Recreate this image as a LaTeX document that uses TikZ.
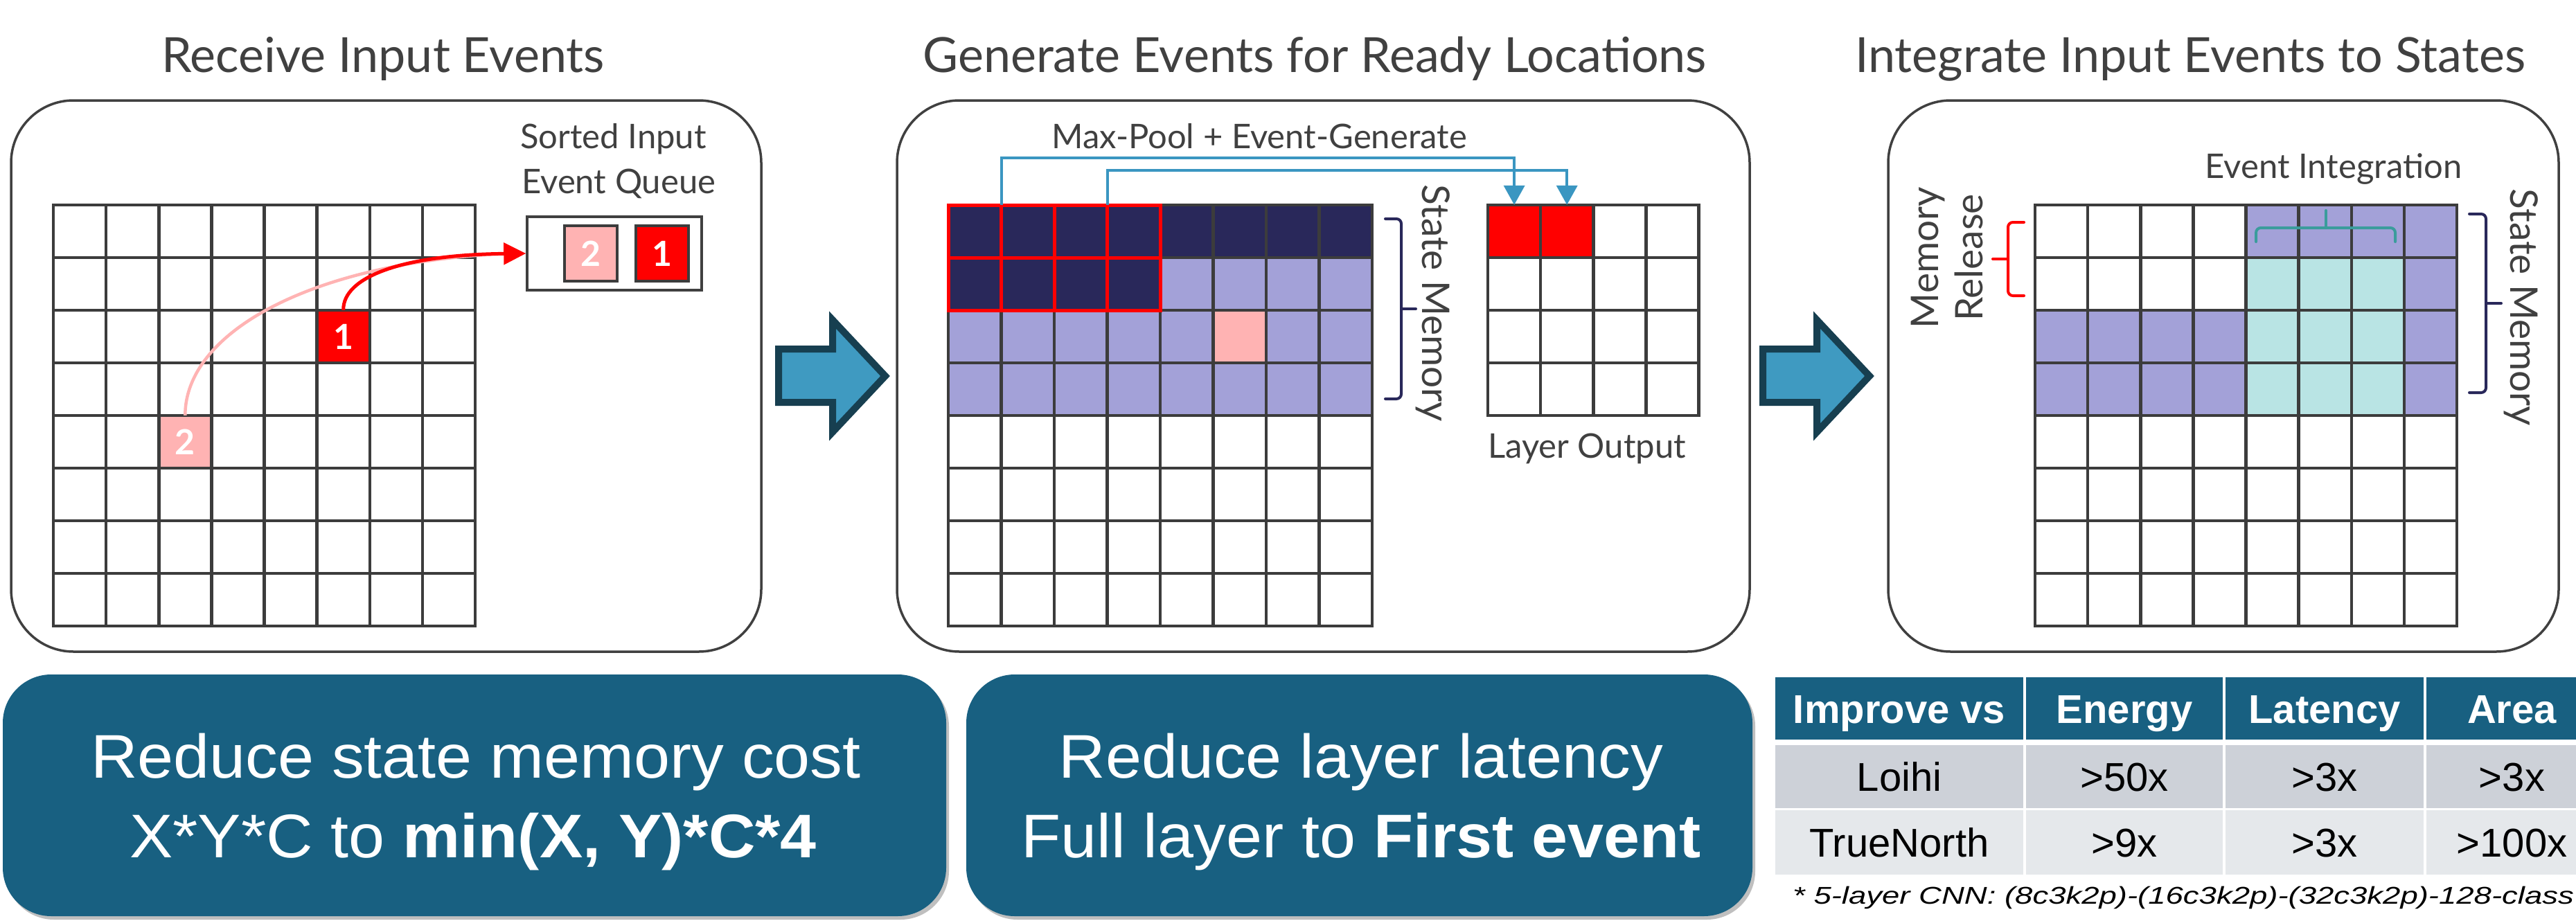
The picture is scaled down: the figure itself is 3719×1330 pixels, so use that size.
\documentclass[tikz,border=0pt]{standalone}
\usepackage{fontspec}
\setmainfont{Liberation Sans}
\newfontfamily\labelfont{Lato}
\newfontfamily\boxfont[FakeStretch=1.05]{Liberation Sans}
\newfontfamily\notefont[FakeStretch=1.3]{Liberation Sans}
\usetikzlibrary{arrows.meta,shadows}

\definecolor{inkgray}{HTML}{404040}
\definecolor{gridgray}{HTML}{3C3C3C}
\definecolor{evred}{HTML}{FF0000}
\definecolor{evpink}{HTML}{FFB3B3}
\definecolor{navy}{HTML}{29285A}
\definecolor{lavender}{HTML}{A3A1D8}
\definecolor{aqua}{HTML}{B9E4E4}
\definecolor{tealbrace}{HTML}{3A9C9C}
\definecolor{wireblue}{HTML}{3A96C1}
\definecolor{arrowfill}{HTML}{3F9AC1}
\definecolor{arrowedge}{HTML}{173F50}
\definecolor{deepteal}{HTML}{186081}
\definecolor{rowA}{HTML}{CDD1D8}
\definecolor{rowB}{HTML}{E5E8EB}

% grid of cells: x0, y0, columns, rows, cell width, cell height
\newcommand\cellgrid[6]{%
  \foreach \gi in {0,...,#3}{\draw[gridline] ({#1+\gi*#5},#2) -- ({#1+\gi*#5},{#2+#4*#6});}
  \foreach \gj in {0,...,#4}{\draw[gridline] (#1,{#2+\gj*#6}) -- ({#1+#3*#5},{#2+\gj*#6});}
}
\newcommand\titlesize{\fontsize{70pt}{84pt}\selectfont}
\newcommand\labelsize{\fontsize{49pt}{58pt}\selectfont}
\newcommand\sidesize{\fontsize{55pt}{66pt}\selectfont}
\newcommand\digitsize{\fontsize{50pt}{60pt}\selectfont}
\newcommand\boxsize{\fontsize{89pt}{106pt}\selectfont}
\newcommand\tablesize{\fontsize{58pt}{70pt}\selectfont}
\newcommand\notesize{\fontsize{35pt}{42pt}\selectfont}

\begin{document}
\begin{tikzpicture}[x=1pt, y=-1pt,
  panel/.style={draw=inkgray, line width=3.5pt, rounded corners=90pt},
  gridline/.style={draw=gridgray, line width=4.5pt, line cap=rect},
  titletext/.style={font=\labelfont\titlesize, text=inkgray, inner sep=0pt, anchor=base},
  labeltext/.style={font=\labelfont\labelsize, text=inkgray, inner sep=0pt, anchor=base},
  sidetext/.style={font=\labelfont\sidesize, text=inkgray, inner sep=0pt, anchor=base},
  eventcell/.style={minimum width=76pt, minimum height=76pt, inner sep=0pt,
    font=\labelfont\digitsize\bfseries, text=white},
  queuecell/.style={eventcell, minimum height=80pt, draw=gridgray, line width=4.5pt},
  outcell/.style={minimum width=76pt, minimum height=76pt, inner sep=0pt, fill=evred},
  redframe/.style={draw=evred, line width=5pt},
  wire/.style={draw=wireblue, line width=4pt, -{Triangle[length=28pt,width=30pt]}},
  bigarrow/.style={fill=arrowfill, draw=arrowedge, line width=10pt, line join=miter},
  bracepath/.style={line width=4pt, rounded corners=7pt, line cap=round},
  gainbox/.style={fill=deepteal, rounded corners=70pt,
    drop shadow={shadow xshift=4pt, shadow yshift=-5pt, fill=black, opacity=0.25}},
  gaintext/.style={font=\boxfont\boxsize, text=white, inner sep=0pt, anchor=base},
  tcell/.style={inner sep=0pt, text height=42pt, text depth=0pt, font=\tablesize},
  hcell/.style={tcell, fill=deepteal, text=white, font=\tablesize\bfseries, minimum height=90pt},
  acell/.style={tcell, fill=rowA, text=black, minimum height=91pt},
  bcell/.style={tcell, fill=rowB, text=black, minimum height=93pt}
]
\useasboundingbox (0,0) rectangle (3719,1330);
\clip (0,0) rectangle (3719,1330);

% ---------- titles ----------
\node[titletext] (title1) at (553,104) {Receive Input Events};
\node[titletext] (title2) at (1898,104) {Generate Events for Ready Locations};
\node[titletext] (title3) at (3162,104) {Integrate Input Events to States};

% ---------- panel frames ----------
\draw[panel] (16,145) rectangle (1099,941);
\draw[panel] (1295,145) rectangle (2526,941);
\draw[panel] (2726,145) rectangle (3694,941);

% ---------- step arrows ----------
\draw[bigarrow] (1124,504) -- (1202,504) -- (1202,462) -- (1278,543) -- (1202,624) -- (1202,581) -- (1124,581) -- cycle;
\draw[bigarrow] (2545,504) -- (2623,504) -- (2623,462) -- (2699,543) -- (2623,624) -- (2623,581) -- (2545,581) -- cycle;

% ---------- panel 1: input events and queue ----------
\node[eventcell, fill=evred] (ev1) at (495.7,486) {1};
\node[eventcell, fill=evpink] (ev2) at (267.3,638) {2};
\cellgrid{77}{296}{8}{8}{76.125}{76}

\node[labeltext, anchor=base west] (qlab1) at (751,214) {Sorted Input};
\node[labeltext, anchor=base west] (qlab2) at (753,279) {Event Queue};
\node[draw=inkgray, line width=3.5pt, minimum width=252pt, minimum height=106pt, inner sep=0pt] (queue) at (887,366) {};
\node[queuecell, fill=evpink] (q2) at (853,366) {2};
\node[queuecell, fill=evred] (q1) at (956,366) {1};

\draw[evpink, line width=4.5pt] (ev2.north) .. controls (267,480) and (450,378) .. ([xshift=-24pt]queue.west);
\draw[evred, line width=5pt, -{Triangle[length=32pt,width=31pt]}] (ev1.north) .. controls (495,400) and (580,368) .. (queue.west);

% ---------- panel 2: state memory and layer output ----------
\fill[lavender] (1369,372) rectangle (1981,600);
\fill[navy] (1369,296) rectangle (1981,372);
\fill[navy] (1369,372) rectangle (1675,448);
\fill[evpink] (1751.5,448) rectangle ++(76.5,76);
\cellgrid{1369}{296}{8}{8}{76.5}{76}
\foreach \c in {0,...,3}{\foreach \r in {0,1}{\draw[redframe] ({1369+\c*76.5},{296+\r*76}) rectangle ++(76.5,76);}}

\node[outcell] (o00) at (2186.1,334) {};
\node[outcell] (o01) at (2262.2,334) {};
\cellgrid{2148}{296}{4}{4}{76.125}{76}

\coordinate (pool1) at (1445.5,296);
\coordinate (pool2) at (1598.5,296);
\draw[wire] (pool1) -- ++(0,-68) -| (o00.north);
\draw[wire] (pool2) -- ++(0,-50) -| (o01.north);
\node[labeltext] (mplab) at (1818,214) {Max-Pool + Event-Generate};
\node[labeltext] (outlab) at (2291,661) {Layer Output};

\draw[bracepath, navy] (2000,316) -- (2023,316) -- (2023,576) -- (2000,576);
\draw[bracepath, navy] (2023,446) -- (2044,446);
\node[sidetext, rotate=-90] (smem2) at (2053,438) {State Memory};

% ---------- panel 3: integration ----------
\fill[lavender] (3242.5,296) rectangle (3547,372);
\fill[lavender] (3470.9,296) rectangle (3547,600);
\fill[lavender] (2938,448) rectangle (3242.5,600);
\fill[aqua] (3242.5,372) rectangle (3470.9,600);
\cellgrid{2938}{296}{8}{8}{76.125}{76}

\draw[bracepath, tealbrace] (3257,349) -- (3257,329) -- (3458,329) -- (3458,349);
\draw[bracepath, tealbrace] (3358,329) -- (3358,304);
\node[labeltext] (intlab) at (3369,257) {Event Integration};

\draw[bracepath, evred] (2922,321) -- (2899,321) -- (2899,427) -- (2922,427);
\draw[bracepath, evred] (2899,374) -- (2877,374);
\node[sidetext, rotate=90] (rel1) at (2798,372) {Memory};
\node[sidetext, rotate=90] (rel2) at (2862,372) {Release};

\draw[bracepath, navy] (3565,309) -- (3589,309) -- (3589,567) -- (3565,567);
\draw[bracepath, navy] (3589,438) -- (3611,438);
\node[sidetext, rotate=-90] (smem3) at (3624,444) {State Memory};

% ---------- bottom summary boxes ----------
\path[gainbox] (4,974) rectangle (1366,1323);
\node[gaintext] (g1a) at (687,1123) {Reduce state memory cost};
\node[gaintext] (g1b) at (683,1238) {X*Y*C to \textbf{min(X, Y)*C*4}};

\path[gainbox] (1395,974) rectangle (2530,1323);
\node[gaintext] (g2a) at (1965,1123) {Reduce layer latency};
\node[gaintext] (g2b) at (1965,1238) {Full layer to \textbf{First event}};

% ---------- comparison table ----------
\node[hcell, minimum width=358pt] (h0) at (2742,1023) {Improve vs};
\node[hcell, minimum width=284pt] (h1) at (3067,1023) {Energy};
\node[hcell, minimum width=286pt] (h2) at (3356,1023) {Latency};
\node[hcell, minimum width=247pt] (h3) at (3626.5,1023) {Area};

\node[acell, minimum width=358pt] (a0) at (2742,1121.5) {Loihi};
\node[acell, minimum width=284pt] (a1) at (3067,1121.5) {>50x};
\node[acell, minimum width=286pt] (a2) at (3356,1121.5) {>3x};
\node[acell, minimum width=247pt] (a3) at (3626.5,1121.5) {>3x};

\node[bcell, minimum width=358pt] (b0) at (2742,1216.5) {TrueNorth};
\node[bcell, minimum width=284pt] (b1) at (3067,1216.5) {>9x};
\node[bcell, minimum width=286pt] (b2) at (3356,1216.5) {>3x};
\node[bcell, minimum width=247pt] (b3) at (3626.5,1216.5) {>100x};

\node[font=\notefont\notesize\itshape, inner sep=0pt, anchor=base west] (note) at (2588,1305)
  {* 5-layer CNN: (8c3k2p)-(16c3k2p)-(32c3k2p)-128-class};
\end{tikzpicture}
\end{document}
